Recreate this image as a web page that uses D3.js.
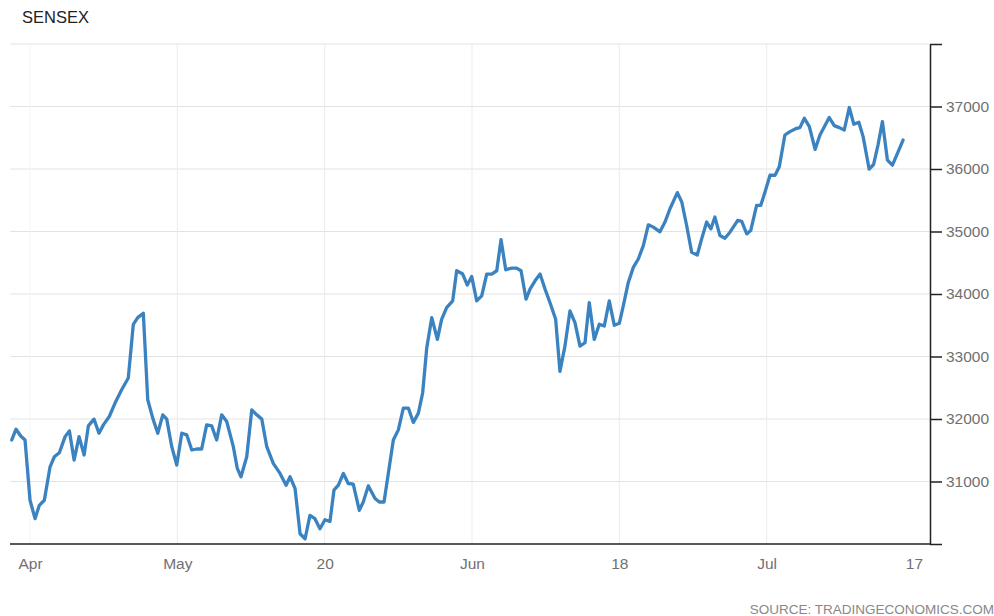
<!DOCTYPE html>
<html>
<head>
<meta charset="utf-8">
<script src="https://cdn.jsdelivr.net/npm/d3@7"></script>
<style>
  html, body { margin: 0; padding: 0; background: #fff; }
  svg { display: block; }
  text { font-family: "Liberation Sans", Arial, sans-serif; }
</style>
</head>
<body>
<script>
// ---- DATA ----
// session position in trading days (0 = "Apr" tick, 10 trading days per labelled tick)
const sessions = [
  -1.24,-0.95,-0.63,-0.34,0.00,0.34,0.63,0.97,1.36,1.65,1.99,2.38,2.67,2.99,3.33,3.67,3.96,4.34,4.68,4.98,
  5.38,5.77,6.22,6.67,7.01,7.31,7.69,7.99,8.33,8.67,9.01,9.28,9.62,9.96,10.30,10.64,10.98,11.31,11.65,11.99,
  12.33,12.67,13.01,13.35,13.80,14.07,14.32,14.71,15.05,15.39,15.73,16.07,16.51,16.97,17.38,17.65,17.99,18.33,18.67,19.00,
  19.34,19.68,20.02,20.36,20.63,20.93,21.27,21.60,21.94,22.35,22.62,22.96,23.42,23.71,24.03,24.32,24.66,25.00,25.34,25.68,
  26.02,26.36,26.65,26.93,27.27,27.65,27.94,28.28,28.69,28.96,29.37,29.68,29.98,30.32,30.66,31.00,31.34,31.68,31.97,32.29,
  32.70,33.03,33.33,33.67,33.94,34.28,34.62,34.96,35.29,35.68,35.97,36.31,36.65,36.99,37.33,37.67,37.96,38.30,38.64,38.98,
  39.32,39.66,40.00,40.27,40.61,40.95,41.29,41.63,41.97,42.31,42.76,43.10,43.44,43.94,44.24,44.57,44.91,45.29,45.59,45.93,
  46.22,46.49,46.83,47.17,47.51,48.04,48.31,48.65,48.92,49.32,49.60,49.89,50.23,50.57,50.86,51.24,51.58,52.04,52.26,52.56,
  52.90,53.29,53.62,54.25,54.59,54.93,55.27,55.61,55.92,56.26,56.55,56.96,57.26,57.56,57.86,58.20,58.54,58.88,59.26
];
const sensex = [
  31665,31837,31729,31665,30700,30405,30619,30700,31235,31396,31460,31718,31810,31343,31718,31424,31890,31998,31772,31906,
  32040,32255,32469,32657,33515,33622,33692,32308,32014,31772,32067,31998,31557,31263,31772,31745,31504,31520,31520,31906,
  31890,31665,32067,31960,31557,31209,31075,31396,32147,32067,31998,31557,31290,31129,30941,31075,30888,30164,30084,30458,
  30405,30244,30389,30360,30861,30941,31129,30968,30957,30539,30672,30930,30727,30672,30672,31129,31665,31826,32175,32175,
  31943,32094,32416,33140,33622,33273,33595,33783,33890,34372,34319,34142,34282,33890,33970,34319,34319,34372,34870,34388,
  34415,34415,34372,33917,34078,34211,34319,34078,33863,33595,32763,33166,33729,33542,33166,33220,33863,33273,33515,33488,
  33890,33499,33531,33809,34185,34426,34560,34774,35107,35070,34995,35151,35364,35622,35472,35096,34668,34625,34882,35151,
  35043,35231,34935,34893,34989,35177,35161,34962,35015,35417,35417,35633,35900,35900,36035,36544,36598,36651,36662,36812,
  36678,36313,36544,36823,36694,36662,36624,36984,36716,36748,36518,35997,36072,36383,36759,36142,36061,36249,36463
];
const xTickValues = [0, 10, 20, 30, 40, 50, 60];
const xTickLabels = ["Apr", "May", "20", "Jun", "18", "Jul", "17"];
const xGridValues = [0, 10, 20, 30, 40, 50];
const yTickValues = [30000, 31000, 32000, 33000, 34000, 35000, 36000, 37000, 38000];
const yLabelled = [31000, 32000, 33000, 34000, 35000, 36000, 37000];
const sessionDomain = [-1.36, 61.09];
const valueDomain = [30000, 38000];
const title = "SENSEX";
const source = "SOURCE: TRADINGECONOMICS.COM";

// ---- LAYOUT ----
const W = 994, H = 616;
const plot = { left: 10, right: 930, top: 44, bottom: 544 };

const svg = d3.select("body").append("svg").attr("width", W).attr("height", H);

const x = d3.scaleLinear().domain(sessionDomain).range([plot.left, plot.right]);
const y = d3.scaleLinear().domain(valueDomain).range([plot.bottom, plot.top]);

// horizontal grid
svg.append("g")
  .selectAll("line").data(yTickValues.filter(v => v !== 30000)).join("line")
  .attr("x1", plot.left).attr("x2", plot.right)
  .attr("y1", d => y(d)).attr("y2", d => y(d))
  .attr("stroke", "#e3e3e3").attr("stroke-width", 1);

// vertical grid
svg.append("g")
  .selectAll("line").data(xGridValues).join("line")
  .attr("x1", d => x(d)).attr("x2", d => x(d))
  .attr("y1", plot.top).attr("y2", plot.bottom)
  .attr("stroke", d => d === 0 ? "#f4f4f4" : "#ebebeb").attr("stroke-width", 1);

// line
const line = d3.line()
  .x((d, i) => x(sessions[i]))
  .y(d => y(d))
  .curve(d3.curveLinear);

svg.append("path")
  .datum(sensex)
  .attr("d", line)
  .attr("fill", "none")
  .attr("stroke", "#3a82c0")
  .attr("stroke-width", 3.3)
  .attr("stroke-linejoin", "round")
  .attr("stroke-linecap", "round");

// x axis
const xAxis = d3.axisBottom(x)
  .tickValues(xTickValues)
  .tickSize(0)
  .tickPadding(14)
  .tickFormat((d, i) => xTickLabels[i]);

const gx = svg.append("g").attr("transform", `translate(0,${plot.bottom})`).call(xAxis);
gx.select(".domain").attr("stroke", "#222").attr("stroke-width", 1.5)
  .attr("d", `M${plot.left},0H${plot.right}`);
gx.selectAll("text").attr("font-size", 15.5).attr("fill", "#707070")
  .attr("font-family", "'Liberation Sans', Arial, sans-serif");

// y axis (right)
const yAxis = d3.axisRight(y)
  .tickValues(yTickValues)
  .tickSize(12)
  .tickSizeOuter(0)
  .tickPadding(4)
  .tickFormat(d => yLabelled.includes(d) ? String(d) : "");

const gy = svg.append("g").attr("transform", `translate(${plot.right},0)`).call(yAxis);
gy.select(".domain").attr("stroke", "#222").attr("stroke-width", 1.5);
gy.selectAll(".tick line").attr("stroke", "#222").attr("stroke-width", 1.5);
gy.selectAll("text").attr("font-size", 15.5).attr("fill", "#707070")
  .attr("font-family", "'Liberation Sans', Arial, sans-serif");

// title
svg.append("text")
  .attr("x", 22).attr("y", 23)
  .attr("font-size", 16.5).attr("fill", "#222")
  .text(title);

// source
svg.append("text")
  .attr("x", 994).attr("y", 614)
  .attr("text-anchor", "end")
  .attr("font-size", 13.5).attr("fill", "#888")
  .text(source);
</script>
</body>
</html>
